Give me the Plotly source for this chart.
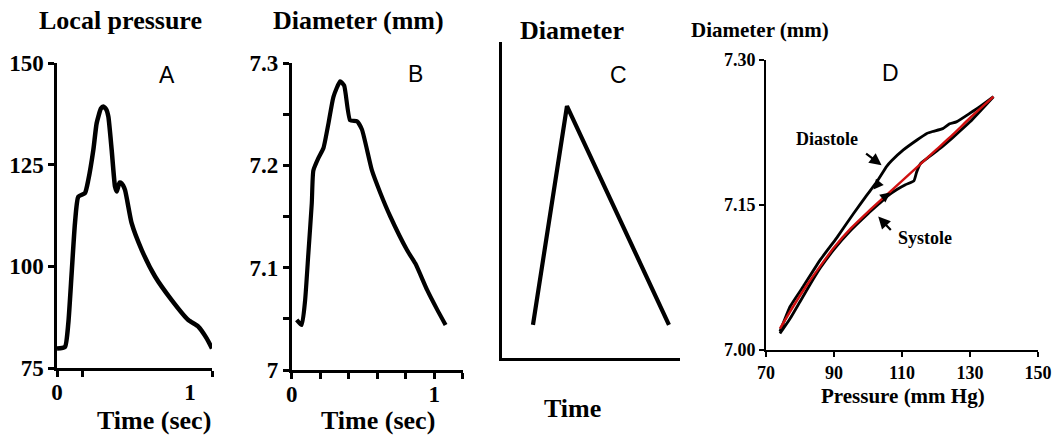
import plotly.graph_objects as go

W, H = 1058, 438

# ---- Panel A: local pressure vs time ----
a_time = [0.0, 0.06, 0.085, 0.11, 0.135, 0.16, 0.21, 0.235, 0.273, 0.298, 0.33, 0.348,
          0.37, 0.386, 0.411, 0.436, 0.449, 0.47, 0.486, 0.511, 0.561, 0.637, 0.737,
          0.862, 0.987, 1.062, 1.125, 1.165]
a_pressure = [79.8, 80.2, 86.0, 98.3, 110.6, 117.1, 118.0, 121.2, 128.6, 135.2, 138.8, 139.3,
              138.6, 136.8, 128.6, 119.6, 118.4, 120.6, 120.4, 118.8, 110.6, 104.0, 97.5,
              91.7, 86.8, 85.2, 82.3, 79.8]

# ---- Panel B: diameter vs time ----
b_time = [0.035, 0.07, 0.094, 0.117, 0.141, 0.152, 0.187, 0.223, 0.258, 0.293, 0.34, 0.368,
          0.41, 0.458, 0.493, 0.563, 0.622, 0.692, 0.81, 0.868, 0.951, 1.021, 1.08]
b_diameter = [7.049, 7.044, 7.068, 7.114, 7.163, 7.195, 7.207, 7.217, 7.241, 7.267, 7.282, 7.278,
              7.244, 7.243, 7.235, 7.195, 7.173, 7.150, 7.117, 7.104, 7.078, 7.059, 7.044]

# ---- Panel C: schematic diameter vs time ----
c_time = [0.174, 0.365, 0.938]
c_diameter = [0.105, 0.797, 0.105]

# ---- Panel D: pressure-diameter loop ----
d_sys_p = [74.1, 77, 80, 83, 86, 90, 95, 100, 103.5, 106, 108.5, 111, 113.5, 114.3, 115.5,
           118, 121, 125, 130, 136.9]
d_sys_d = [7.017, 7.032, 7.050, 7.068, 7.085, 7.104, 7.124, 7.141, 7.152, 7.160, 7.166, 7.171,
           7.175, 7.184, 7.193, 7.200, 7.208, 7.220, 7.236, 7.262]
d_dia_p = [136.9, 133, 130, 126, 124, 122, 119, 117.3, 114.3, 110.4, 107, 105.5, 102.6, 99.6,
           95.7, 90.8, 85.9, 81, 77.1, 74.1]
d_dia_d = [7.262, 7.252, 7.245, 7.236, 7.234, 7.229, 7.226, 7.224, 7.217, 7.207, 7.196, 7.190,
           7.174, 7.160, 7.141, 7.116, 7.093, 7.066, 7.045, 7.019]
d_fit_p = [74.1, 78, 82, 86, 90, 95, 100, 105, 110, 115, 120, 125, 130, 136.9]
d_fit_d = [7.022, 7.045, 7.067, 7.087, 7.106, 7.126, 7.143, 7.159, 7.175, 7.191, 7.207, 7.223,
           7.240, 7.262]

a_yticks = [75, 100, 125, 150]
a_xticks = [0, 1]
a_xticktext = ["0", "1"]
b_yticks = [7.0, 7.05, 7.1, 7.15, 7.2, 7.25, 7.3]
b_yticktext = ["7", "", "7.1", "", "7.2", "", "7.3"]
b_xticks = [0, 0.2, 0.4, 0.6, 0.8, 1.0, 1.2]
b_xticktext = ["0", "", "", "", "", "1", ""]
d_xticks = [70, 90, 110, 130, 150]
d_yticks = [7.00, 7.15, 7.30]
d_yticktext = ["7.00", "7.15", "7.30"]

SERIF = "Liberation Serif"
SANS = "Liberation Sans"


def px_x(x):
    return x / W


def px_y(y):
    return 1 - y / H


def bold(lst):
    return ["<b>%s</b>" % t if t else "" for t in lst]


fig = go.Figure()
fig.add_trace(go.Scatter(x=a_time, y=a_pressure, mode="lines", xaxis="x", yaxis="y",
                         line=dict(color="black", width=4.5, shape="spline", smoothing=0.5)))
fig.add_trace(go.Scatter(x=b_time, y=b_diameter, mode="lines", xaxis="x2", yaxis="y2",
                         line=dict(color="black", width=4.2, shape="spline", smoothing=0.5)))
fig.add_trace(go.Scatter(x=c_time, y=c_diameter, mode="lines", xaxis="x3", yaxis="y3",
                         line=dict(color="black", width=4.2)))
fig.add_trace(go.Scatter(x=d_sys_p + d_dia_p, y=d_sys_d + d_dia_d, mode="lines",
                         xaxis="x4", yaxis="y4",
                         line=dict(color="black", width=2.8, shape="spline", smoothing=0.4)))
fig.add_trace(go.Scatter(x=d_fit_p, y=d_fit_d, mode="lines", xaxis="x4", yaxis="y4",
                         line=dict(color="#d01010", width=2.4, shape="spline", smoothing=0.6)))

tick_ab = dict(family=SERIF, size=23, color="black", weight="bold")
tick_d = dict(family=SERIF, size=18, color="black", weight="bold")
common = dict(showgrid=False, zeroline=False, showline=True, linecolor="black",
              ticks="outside", tickcolor="black", automargin=False, tickmode="array")

fig.update_layout(
    template="none",
    width=W, height=H, margin=dict(l=0, r=0, t=0, b=0, pad=0, autoexpand=False),
    paper_bgcolor="white", plot_bgcolor="white", showlegend=False,
    xaxis=dict(domain=[px_x(57), px_x(212)], range=[0, 1.165], anchor="y",
               tickvals=a_xticks, ticktext=bold(a_xticktext), ticklen=0, tickwidth=0,
               minor=dict(tickvals=[0, 0.19, 1.165], ticks="outside", ticklen=6,
                          tickwidth=2.5, tickcolor="black"),
               tickfont=tick_ab, linewidth=2.5, showgrid=False, zeroline=False,
               showline=True, linecolor="black", ticks="outside", tickcolor="black",
               automargin=False, tickmode="array", ticklabelstandoff=2),
    yaxis=dict(domain=[px_y(368), px_y(63)], range=[75, 150], anchor="x",
               tickvals=a_yticks, ticktext=bold([str(v) for v in a_yticks]),
               ticklen=6, tickwidth=2.5, tickfont=tick_ab, linewidth=2.5, **common),
    xaxis2=dict(domain=[px_x(291.7), px_x(462.7)], range=[0, 1.2], anchor="y2",
                tickvals=b_xticks, ticktext=bold(b_xticktext), ticklen=6, tickwidth=2.5,
                tickfont=tick_ab, linewidth=2.5, ticklabelstandoff=-4, **common),
    yaxis2=dict(domain=[px_y(370), px_y(63)], range=[7.0, 7.3], anchor="x2",
                tickvals=b_yticks, ticktext=bold(b_yticktext), ticklen=6, tickwidth=2.5,
                tickfont=tick_ab, linewidth=2.5, **common),
    xaxis3=dict(domain=[px_x(502), px_x(680)], range=[0, 1], anchor="y3",
                showticklabels=False, showgrid=False, zeroline=False, showline=True,
                linecolor="black", linewidth=3, ticks="", automargin=False),
    yaxis3=dict(domain=[px_y(358), px_y(42)], range=[0, 1], anchor="x3",
                showticklabels=False, showgrid=False, zeroline=False, showline=True,
                linecolor="black", linewidth=3, ticks="", automargin=False),
    xaxis4=dict(domain=[px_x(766), px_x(1038)], range=[70, 150], anchor="y4",
                tickvals=d_xticks, ticktext=bold([str(v) for v in d_xticks]),
                ticklen=5, tickwidth=2, tickfont=tick_d, linewidth=2, **common),
    yaxis4=dict(domain=[px_y(350), px_y(60)], range=[7.0, 7.3], anchor="x4",
                tickvals=d_yticks, ticktext=bold(d_yticktext), ticklen=5, tickwidth=2,
                tickfont=tick_d, linewidth=2, **common),
)

anns = []


def title(text, cx, cy, size, family=SERIF, is_bold=True):
    anns.append(dict(text="<b>%s</b>" % text if is_bold else text,
                     x=px_x(cx), y=px_y(cy), xref="paper", yref="paper",
                     xanchor="center", yanchor="middle", showarrow=False,
                     font=dict(family=family, size=size, color="black")))


title("Local pressure", 120, 20, 26)
title("Time (sec)", 154, 420, 26)
title("Diameter (mm)", 358, 20, 26)
title("Time (sec)", 378, 420, 26)
title("Diameter", 572, 30, 26)
title("Time", 572, 408, 26)
title("Diameter (mm)", 760, 30, 21)
title("Pressure (mm Hg)", 903, 396, 21)
title("A", 167, 75, 23, SANS, False)
title("B", 415, 74, 23, SANS, False)
title("C", 618, 75, 23, SANS, False)
title("D", 890, 73, 23, SANS, False)

# panel D labels with arrows
anns.append(dict(text="<b>Diastole</b>", x=87.9, y=7.218, xref="x4", yref="y4", showarrow=False,
                 font=dict(family=SERIF, size=18, color="black")))
anns.append(dict(text="<b>Systole</b>", x=116.8, y=7.1155, xref="x4", yref="y4", showarrow=False,
                 font=dict(family=SERIF, size=18, color="black")))
anns.append(dict(text="", x=104.0, y=7.191, xref="x4", yref="y4", showarrow=True,
                 ax=-17, ay=-13, arrowhead=2, arrowsize=1.1, arrowwidth=2.2, arrowcolor="black"))
anns.append(dict(text="", x=103.0, y=7.138, xref="x4", yref="y4", showarrow=True,
                 ax=14, ay=15, arrowhead=2, arrowsize=1.1, arrowwidth=2.2, arrowcolor="black"))
# direction arrowheads on the loop
anns.append(dict(text="", x=101.6, y=7.166, xref="x4", yref="y4", showarrow=True,
                 ax=5, ay=-6, arrowhead=2, arrowsize=1.0, arrowwidth=2, arrowcolor="black"))
anns.append(dict(text="", x=106.5, y=7.163, xref="x4", yref="y4", showarrow=True,
                 ax=-5, ay=4, arrowhead=2, arrowsize=1.0, arrowwidth=2, arrowcolor="black"))

fig.update_layout(annotations=anns)
fig.write_html("out.html")
